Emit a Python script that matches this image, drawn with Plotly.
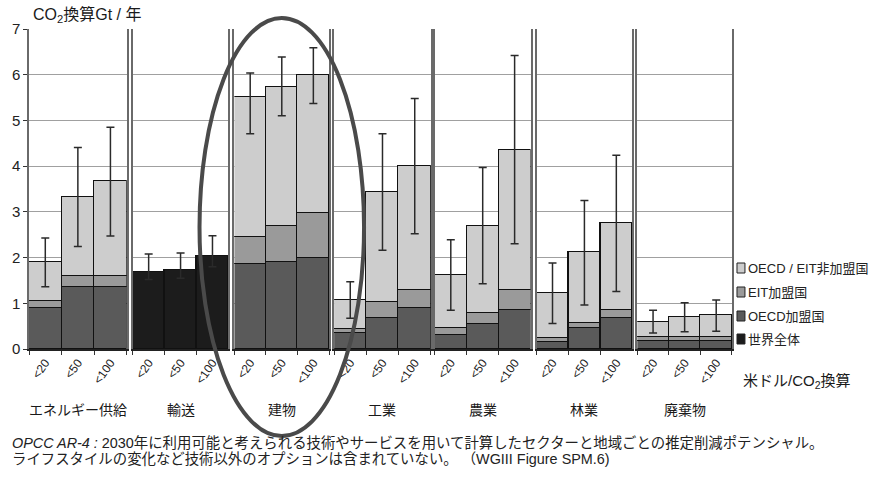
import plotly.graph_objects as go

# Sectors and carbon-price bands
sectors = ["エネルギー供給", "輸送", "建物", "工業", "農業", "林業", "廃棄物"]
prices = ["<20", "<50", "<100"]

# Mitigation potential by region group (GtCO2-eq / yr), stacked per price band
oecd = [[0.89, 1.36, 1.36], None, [1.85, 1.90, 1.98], [0.34, 0.68, 0.90],
        [0.31, 0.54, 0.86], [0.16, 0.47, 0.68], [0.18, 0.18, 0.18]]
eit = [[0.16, 0.24, 0.24], None, [0.61, 0.80, 0.99], [0.09, 0.35, 0.39],
       [0.14, 0.24, 0.44], [0.07, 0.09, 0.17], [0.09, 0.09, 0.09]]
non_member = [[0.85, 1.72, 2.07], None, [3.05, 3.04, 3.02], [0.64, 2.41, 2.71],
              [1.16, 1.90, 3.05], [1.00, 1.56, 1.90], [0.32, 0.43, 0.48]]
world = [None, [1.68, 1.72, 2.03], None, None, None, None, None]

# Uncertainty ranges (low, high) per bar
err_low = [[1.36, 2.24, 2.47], [1.52, 1.55, 1.80], [4.71, 5.10, 5.37], [0.67, 2.16, 2.52],
           [0.85, 1.43, 2.30], [0.56, 0.96, 1.26], [0.35, 0.38, 0.39]]
err_high = [[2.43, 4.41, 4.85], [2.08, 2.10, 2.48], [6.04, 6.39, 6.59], [1.47, 4.71, 5.48],
            [2.39, 3.97, 6.42], [1.88, 3.25, 4.24], [0.85, 1.01, 1.07]]

series_names = ["OECD / EIT非加盟国", "EIT加盟国", "OECD加盟国", "世界全体"]
colors = {"OECD / EIT非加盟国": "#cdcdcd", "EIT加盟国": "#9a9a9a",
          "OECD加盟国": "#5a5a5a", "世界全体": "#1c1c1c"}

W, H = 880, 481
L, R, T, B = 27, 732, 29, 349
panels_px = [(27, 125), (131, 227), (233, 328), (333, 430), (434, 530), (536, 632), (637, 732)]
pw = R - L
ph = B - T


def px_x(x):
    return (x - L) / pw


def px_y(y):
    return (B - y) / ph


font_family = "Liberation Sans, Arial, Noto Sans CJK JP, sans-serif"
fig = go.Figure()

for i, sec in enumerate(sectors):
    xa = "x" if i == 0 else f"x{i+1}"
    ya = "y" if i == 0 else f"y{i+1}"
    if oecd[i] is not None:
        stacks = [("OECD加盟国", oecd[i]), ("EIT加盟国", eit[i]), ("OECD / EIT非加盟国", non_member[i])]
    else:
        stacks = [("世界全体", world[i])]
    totals = [0.0, 0.0, 0.0]
    for name, vals in stacks:
        fig.add_trace(go.Bar(
            x=prices, y=vals, name=name, xaxis=xa, yaxis=ya,
            marker=dict(color=colors[name], line=dict(color="#111111", width=1.3)),
            showlegend=False, hoverinfo="skip",
        ))
        totals = [t + v for t, v in zip(totals, vals)]
    fig.add_trace(go.Scatter(
        x=prices, y=totals, mode="markers", xaxis=xa, yaxis=ya,
        marker=dict(size=1, opacity=0), showlegend=False, hoverinfo="skip",
        error_y=dict(type="data", symmetric=False,
                     array=[h - t for h, t in zip(err_high[i], totals)],
                     arrayminus=[t - l for t, l in zip(totals, err_low[i])],
                     color="#2a2a2a", thickness=1.5, width=4),
    ))

layout = dict(
    width=W, height=H,
    margin=dict(l=L, r=W - R, t=T, b=H - B, pad=0),
    paper_bgcolor="white", plot_bgcolor="white",
    barmode="stack", bargap=0, showlegend=False,
    font=dict(family=font_family, color="#1a1a1a"),
)

for i, (x0, x1) in enumerate(panels_px):
    key = "" if i == 0 else str(i + 1)
    layout[f"xaxis{key}"] = dict(
        domain=[px_x(x0), px_x(x1)], anchor="y" if i == 0 else f"y{i+1}",
        type="category", range=[-0.5, 2.5], tickson="boundaries",
        ticks="outside", ticklen=4, tickcolor="#333333",
        showline=True, linecolor="#222222", linewidth=2,
        tickangle=-55, tickfont=dict(size=12, color="#222222"),
        showgrid=False, zeroline=False, fixedrange=True,
    )
    layout[f"yaxis{key}"] = dict(
        anchor="x" if i == 0 else f"x{i+1}",
        range=[0, 7], dtick=1, showgrid=True, gridcolor="#a0a0a0", gridwidth=1,
        showline=True, mirror=True, linecolor="#6a6a6a", linewidth=1.5,
        zeroline=False, showticklabels=(i == 0),
        ticks="outside" if i == 0 else "", ticklen=4, tickcolor="#333333",
        tickfont=dict(size=15, color="#222222"), fixedrange=True,
    )
    if i > 0:
        layout[f"yaxis{key}"]["matches"] = "y"

fig.update_layout(**layout)

annotations = [
    dict(text="CO<sub>2</sub>換算Gt / 年", x=px_x(29), y=px_y(15), xanchor="left", yanchor="middle",
         font=dict(size=16, color="#1a1a1a")),
    dict(text="米ドル/CO<sub>2</sub>換算", x=px_x(741), y=px_y(381), xanchor="left", yanchor="middle",
         font=dict(size=15, color="#1a1a1a")),
    dict(text="<i>OPCC AR-4 :</i> 2030年に利用可能と考えられる技術やサービスを用いて計算したセクターと地域ごとの推定削減ポテンシャル。",
         x=px_x(8), y=px_y(443), xanchor="left", yanchor="middle", font=dict(size=14.4, color="#222222")),
    dict(text="ライフスタイルの変化など技術以外のオプションは含まれていない。 （WGIII Figure SPM.6)",
         x=px_x(8), y=px_y(459), xanchor="left", yanchor="middle", font=dict(size=14.4, color="#222222")),
]
for sec, (x0, x1) in zip(sectors, panels_px):
    annotations.append(dict(text=sec, x=px_x((x0 + x1) / 2), y=px_y(410), xanchor="center",
                            yanchor="middle", font=dict(size=14, color="#1a1a1a")))

# Legend: swatch + label per region group
legend_rows = [268, 292, 316, 339]
shapes = []
for name, yc in zip(series_names, legend_rows):
    shapes.append(dict(type="rect", xref="paper", yref="paper",
                       x0=px_x(737), x1=px_x(745), y0=px_y(yc + 5), y1=px_y(yc - 5),
                       fillcolor=colors[name], line=dict(color="#222222", width=1)))
    annotations.append(dict(text=name, x=px_x(746), y=px_y(yc), xanchor="left", yanchor="middle",
                            font=dict(size=13, color="#222222")))

for a in annotations:
    a.update(xref="paper", yref="paper", showarrow=False)

# Highlight ring around the buildings sector
shapes.append(dict(type="circle", xref="paper", yref="paper",
                   x0=px_x(198), x1=px_x(363), y0=px_y(436), y1=px_y(18),
                   line=dict(color="#4a4a4a", width=4), layer="above"))

fig.update_layout(annotations=annotations, shapes=shapes)

fig.write_html("out.html")
